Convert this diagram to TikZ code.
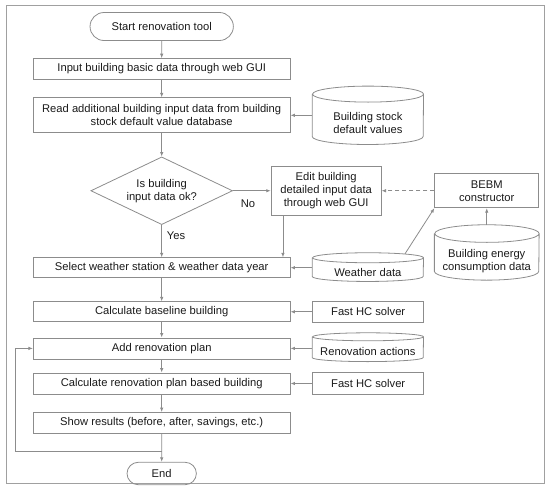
\documentclass[tikz,border=0pt]{standalone}
\usepackage{fontspec}
\setmainfont{Liberation Sans}
\usetikzlibrary{positioning,shapes.geometric,shapes.misc,arrows.meta}

\definecolor{ln}{HTML}{8C8C8C}
\definecolor{frm}{HTML}{A0A0A0}
\definecolor{txt}{HTML}{1A1A1A}

\tikzset{
  box/.style={draw=ln, line width=0.8pt, minimum width=256.7pt, minimum height=21pt,
    align=center, inner sep=2pt, text=txt},
  sidebox/.style={draw=ln, line width=0.8pt, minimum width=110pt, align=center,
    inner sep=2pt, text=txt},
  db/.style={rectangle, minimum width=111pt, align=center, inner sep=1pt, text=txt},
  term/.style={rounded rectangle, draw=ln, line width=0.8pt, text=txt},
  decide/.style={diamond, draw=ln, line width=0.8pt, aspect=2.1, inner sep=0pt,
    minimum width=141.7pt, minimum height=67.7pt, align=center, text=txt},
  arr/.style={draw=ln, line width=0.8pt, -{Latex[length=4.5pt,width=3.5pt]}},
  lbl/.style={text=txt}
}

% outline of a database drum round the front face of node #1
% (#2 = half width, #3 = radius of the end caps)
\newcommand{\drumdb}[3]{%
  \draw[ln, line width=0.8pt]
    ([yshift=#3]#1.north west) -- ([yshift=#3]#1.south west)
    arc[start angle=180, end angle=360, x radius=#2, y radius=#3]
    -- ([yshift=#3]#1.north east)
    arc[start angle=0, end angle=360, x radius=#2, y radius=#3];
}

\begin{document}
\begin{tikzpicture}[x=1pt, y=-1pt, font=\fontsize{11.2}{13}\selectfont]
  \useasboundingbox (0,0) rectangle (550,488);
  \draw[frm, line width=0.9pt] (6,5.5) rectangle (544.5,483.3);

  % main flow
  \node[term, minimum width=150pt, minimum height=28pt] (start) at (161.7,26.5) {Start renovation tool};
  \node[box, below=17.3pt of start] (input) {Input building basic data through web GUI};
  \node[box, below=17.4pt of input, minimum height=35pt] (read) {Read additional building input data from building\\stock default value database};
  \node[decide, below=23.3pt of read] (dia) {Is building\\input data ok?};
  \node[box, below=32.3pt of dia, minimum height=20pt] (sel) {Select weather station \& weather data year};
  \node[box, below=23.3pt of sel, minimum height=20pt] (base) {Calculate baseline building};
  \node[box, below=15.3pt of base] (add) {Add renovation plan};
  \node[box, below=13.3pt of add] (calc) {Calculate renovation plan based building};
  \node[box, below=17.7pt of calc] (show) {Show results (before, after, savings, etc.)};
  \node[term, below=28pt of show, minimum width=76pt, minimum height=22.4pt] (end) {End};

  % data sources and tools on the right
  \node[db, right=21.7pt of read, yshift=-8pt, minimum height=42pt] (stock) {Building stock\\default values};
  \node[sidebox, right=37.8pt of dia, minimum height=48.3pt] (edit) {Edit building\\detailed input data\\through web GUI};
  \node[sidebox, right=52.8pt of edit, minimum width=104pt, minimum height=34pt] (bebm) {BEBM\\constructor};
  \node[db, below=34.2pt of bebm, minimum width=104.4pt, minimum height=37.4pt] (energy) {Building energy\\consumption data};
  \node[db, right=21.7pt of sel, yshift=-4.4pt, minimum height=18.3pt] (wthr) {Weather data};
  \node[sidebox, right=22pt of base, minimum width=110.7pt, minimum height=21.7pt] (fast1) {Fast HC solver};
  \node[db, right=21.7pt of add, yshift=-2.8pt, minimum height=20.4pt] (actions) {Renovation actions};
  \node[sidebox, right=22pt of calc, minimum width=110.7pt, minimum height=22pt] (fast2) {Fast HC solver};

  % drums of the databases
  \drumdb{stock}{55.5pt}{8pt}
  \drumdb{energy}{52.2pt}{8.8pt}
  \drumdb{wthr}{55.5pt}{5pt}
  \drumdb{actions}{55.5pt}{4pt}

  % main column
  \draw[arr] (start) -- (input);
  \draw[arr] (input) -- (read);
  \draw[arr] (read) -- (dia);
  \draw[arr] (dia.south) -- node[lbl, right=1.5pt, pos=0.33] {Yes} (sel.north);
  \draw[arr] (sel) -- (base);
  \draw[arr] (base) -- (add);
  \draw[arr] (add) -- (calc);
  \draw[arr] (calc) -- (show);
  \draw[arr] (show) -- (end);

  % edit branch
  \draw[arr] (dia.east) -- node[lbl, below=5pt, pos=0.4] {No} (edit.west);
  \draw[arr] ([xshift=12.2pt]edit.south west) -- ([xshift=12.2pt]edit.south west |- sel.north);
  \draw[arr, dash pattern=on 4pt off 3pt] (bebm.west) -- (edit.east);
  \draw[arr] ([yshift=17.6pt]energy.north) -- (bebm.south);
  \draw[arr] ([xshift=37pt,yshift=8.7pt]wthr.north) -- (bebm.south west);

  % inputs into the steps
  \draw[arr] (stock.west |- read.east) -- (read.east);
  \draw[arr] (wthr.west |- sel.east) -- (sel.east);
  \draw[arr] (fast1.west) -- (base.east);
  \draw[arr] (actions.west |- add.east) -- (add.east);
  \draw[arr] (fast2.west) -- (calc.east);

  % loop back to the renovation plan
  \coordinate[below=17pt of show] (back);
  \draw[arr] (back) -| ([xshift=-17.3pt]add.west) -- (add.west);
\end{tikzpicture}
\end{document}
